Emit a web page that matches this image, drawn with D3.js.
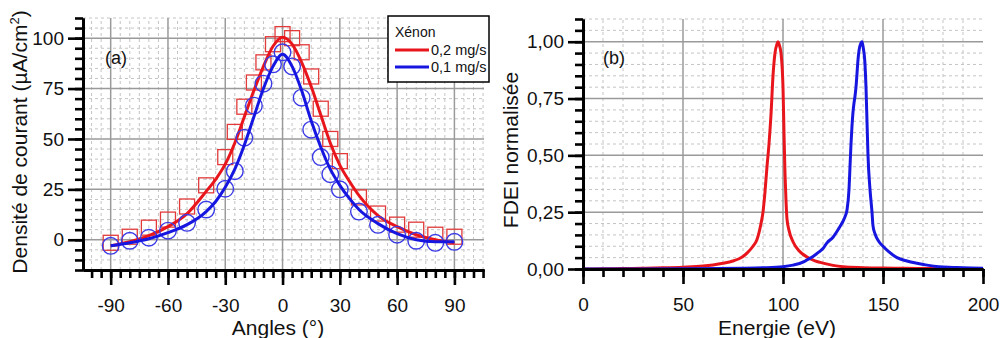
<!DOCTYPE html>
<html><head><meta charset="utf-8">
<script src="https://cdn.jsdelivr.net/npm/d3@7"></script>
<style>body{margin:0;background:#fff} svg{display:block;font-family:Arial,"Liberation Sans",sans-serif}</style>
</head><body><svg id="c" width="1001" height="338"></svg>
<script>
// ---------- Data: panel (a) ----------
const angles = [-90,-80,-70,-60,-50,-40,-30,-25,-20,-15,-10,-5,0,5,10,15,20,25,30,40,50,60,70,80,90];
const current02 = [-1.5,1.5,6,10,16.5,27,41,53.5,66,78,88,97,102,100,93,81,65,50,39,21,13,7.5,5,2.5,1.5];
const current01 = [-3,-0.5,1,4.5,8.4,15,25.3,34,50.6,66.5,77.4,87,93,86,70.5,54.6,41,32.5,25,14,7.4,2.5,-0.5,-1.5,-1];
const fitAngles = [-90,-80,-70,-60,-50,-40,-35,-30,-25,-20,-15,-10,-5,0,5,10,15,20,25,30,35,40,50,60,70,80,90];
const fit02 = [-3,-1,2,6.5,13,24,30,37.5,48,61,74,86,96,100.5,97,88,76,62,48,37,29,22,12,6.5,2.5,0,-1.5];
const fit01 = [-3,-1.5,0.5,3.5,7.5,14,19,26,35,47,61,75,86,92,86,74,59,46,35,27,20.5,15,8,3,0,-1,-1];
const angleTicks = [-90,-60,-30,0,30,60,90];
const currentTicks = [0,25,50,75,100];

// ---------- Data: panel (b) ----------
const energyRed = [0,10,20,30,40,50,60,65,70,75,78,80,82,85,87,88,89,90,91,92,93,94,95,96,97,97.5,98,99,100,100.5,101,101.5,102,103,105,108,112,116,120,125,130,140,150,160,180,200];
const fdeiRed   = [0,0.001,0.002,0.003,0.005,0.008,0.013,0.018,0.025,0.035,0.045,0.055,0.07,0.1,0.13,0.16,0.2,0.25,0.34,0.45,0.55,0.68,0.85,0.95,0.99,1.0,0.99,0.95,0.8,0.6,0.42,0.3,0.22,0.17,0.12,0.08,0.053,0.036,0.026,0.016,0.01,0.006,0.004,0.003,0.002,0.001];
const energyBlue = [0,50,80,90,100,105,110,112,115,118,120,122,125,128,130,131,132,133,133.5,134,134.5,135,135.5,136,136.5,137,137.5,138,139,139.5,140,141,141.5,142,142.5,143.5,144.5,145,146,148,150,153,157,162,167,172,178,185,190,200];
const fdeiBlue   = [0,0.001,0.003,0.005,0.01,0.017,0.03,0.04,0.055,0.075,0.09,0.115,0.14,0.18,0.21,0.23,0.26,0.35,0.45,0.55,0.63,0.69,0.73,0.76,0.8,0.86,0.92,0.96,0.995,1.0,0.98,0.9,0.8,0.65,0.5,0.35,0.25,0.19,0.155,0.12,0.1,0.075,0.05,0.035,0.025,0.017,0.01,0.007,0.005,0.003];
const energyTicks = [0,50,100,150,200];
const fdeiTicks = [0,0.25,0.5,0.75,1];

const legendTitle = "Xénon";
const seriesNames = ["0,2 mg/s","0,1 mg/s"];
const RED = "#e8161c", BLUE = "#1616e0";

const svg = d3.select("#c");

function range(a,b,s){const r=[];for(let v=a;v<=b+1e-9;v+=s)r.push(+v.toFixed(6));return r;}

function drawGrid(g, x, y, xMinor, yMinor, xMajor, yMajor){
  const [x0,x1]=x.range(), [y0,y1]=y.range();
  g.selectAll(".vminor").data(xMinor.filter(d=>!xMajor.includes(d))).enter().append("line")
    .attr("x1",d=>x(d)).attr("x2",d=>x(d)).attr("y1",y0).attr("y2",y1)
    .attr("stroke","#c4c4c4").attr("stroke-width",1).attr("stroke-dasharray","3,3");
  g.selectAll(".hminor").data(yMinor.filter(d=>!yMajor.includes(d))).enter().append("line")
    .attr("y1",d=>y(d)).attr("y2",d=>y(d)).attr("x1",x0).attr("x2",x1)
    .attr("stroke","#c4c4c4").attr("stroke-width",1).attr("stroke-dasharray","3,3");
  g.selectAll(".vmajor").data(xMajor).enter().append("line")
    .attr("x1",d=>x(d)).attr("x2",d=>x(d)).attr("y1",y0).attr("y2",y1)
    .attr("stroke","#9a9a9a").attr("stroke-width",1.5);
  g.selectAll(".hmajor").data(yMajor).enter().append("line")
    .attr("y1",d=>y(d)).attr("y2",d=>y(d)).attr("x1",x0).attr("x2",x1)
    .attr("stroke","#9a9a9a").attr("stroke-width",1.5);
}

function drawAxes(x, y, xMinor, yMinor, xMajor, yMajor, xFmt, yFmt){
  const [x0]=x.range(), [y0]=y.range();
  const gx = svg.append("g").attr("transform",`translate(0,${y0})`);
  gx.call(d3.axisBottom(x).tickValues(xMinor).tickSize(8).tickSizeOuter(0).tickFormat(""));
  gx.call(g=>g.append("g").call(d3.axisBottom(x).tickValues(xMajor).tickSize(15).tickSizeOuter(0).tickPadding(14).tickFormat(xFmt)));
  const gy = svg.append("g").attr("transform",`translate(${x0},0)`);
  gy.call(d3.axisLeft(y).tickValues(yMinor).tickSize(8).tickSizeOuter(0).tickFormat(""));
  gy.call(g=>g.append("g").call(d3.axisLeft(y).tickValues(yMajor).tickSize(15).tickSizeOuter(0).tickPadding(4).tickFormat(yFmt)));
  [gx,gy].forEach(g=>{
    g.selectAll("path.domain").attr("stroke","#000").attr("stroke-width",2.8);
    g.selectAll(".tick line").attr("stroke","#000").attr("stroke-width",2.6);
    g.selectAll(".tick text").attr("fill","#111").attr("font-size",19).attr("font-family","Arial,'Liberation Sans',sans-serif");
  });
  gx.selectAll(".tick text").attr("dy","0.71em");
}

// ---------- Panel (a) ----------
const xa = d3.scaleLinear().domain([-104.5,105.5]).range([83,484]);
const ya = d3.scaleLinear().domain([-15,110]).range([270,18]);
drawGrid(svg.append("g"), xa, ya, range(-100,105,5), range(-15,110,5), angleTicks, currentTicks);

const lineA = (xs, ys) => d3.line().x((d,i)=>xa(xs[i])).y((d,i)=>ya(ys[i])).curve(d3.curveMonotoneX)(ys);
svg.append("g").selectAll("rect").data(angles).enter().append("rect")
  .attr("x",(d,i)=>xa(d)-7.5).attr("y",(d,i)=>ya(current02[i])-7.5).attr("width",15).attr("height",15)
  .attr("fill","none").attr("stroke","#e23a3a").attr("stroke-width",1.3);
svg.append("path").attr("d",lineA(fitAngles,fit02)).attr("fill","none").attr("stroke",RED).attr("stroke-width",3);
svg.append("g").selectAll("circle").data(angles).enter().append("circle")
  .attr("cx",d=>xa(d)).attr("cy",(d,i)=>ya(current01[i])).attr("r",8.3)
  .attr("fill","none").attr("stroke","#3a3ae6").attr("stroke-width",1.4);
svg.append("path").attr("d",lineA(fitAngles,fit01)).attr("fill","none").attr("stroke",BLUE).attr("stroke-width",3);

drawAxes(xa, ya, range(-100,105,5), range(-15,110,5), angleTicks, currentTicks, d=>String(d), d=>String(d));

svg.append("text").attr("x",105).attr("y",64).attr("font-size",18).attr("fill","#111").text("(a)");
svg.append("text").attr("x",278).attr("y",335).attr("text-anchor","middle").attr("font-size",21).attr("fill","#111").text("Angles (°)");
const ta = svg.append("text").attr("transform","translate(27,142) rotate(-90)").attr("text-anchor","middle").attr("font-size",21).attr("fill","#111");
ta.append("tspan").text("Densité de courant (µA/cm");
ta.append("tspan").attr("font-size",13).attr("dy",-8).text("2");
ta.append("tspan").attr("dy",8).text(")");

// legend
const lg = svg.append("g");
lg.append("rect").attr("x",388).attr("y",16).attr("width",101).attr("height",66).attr("fill","#fff").attr("stroke","#000").attr("stroke-width",1.5);
lg.append("text").attr("x",395).attr("y",37).attr("font-size",14).attr("fill","#111").text(legendTitle);
[RED,BLUE].forEach((c,i)=>{
  const yy = 50 + i*17;
  lg.append("line").attr("x1",395).attr("x2",429).attr("y1",yy).attr("y2",yy).attr("stroke",c).attr("stroke-width",3);
  lg.append("text").attr("x",431).attr("y",yy+5).attr("font-size",14.5).attr("fill","#111").text(seriesNames[i]);
});

// ---------- Panel (b) ----------
const xb = d3.scaleLinear().domain([0,200]).range([583,983]);
const yb = d3.scaleLinear().domain([0,1.1]).range([269,19]);
drawGrid(svg.append("g"), xb, yb, range(10,190,10), range(0.05,1.1,0.05), [50,100,150], [0.25,0.5,0.75,1]);
const lineB = (xs, ys) => d3.line().x((d,i)=>xb(xs[i])).y((d,i)=>yb(ys[i])).curve(d3.curveMonotoneX)(ys);
svg.append("path").attr("d",lineB(energyRed,fdeiRed)).attr("fill","none").attr("stroke",RED).attr("stroke-width",3);
svg.append("path").attr("d",lineB(energyBlue,fdeiBlue)).attr("fill","none").attr("stroke",BLUE).attr("stroke-width",3);

drawAxes(xb, yb, range(0,200,10), range(0,1.1,0.05), energyTicks, fdeiTicks, d=>String(d), d=>d3.format(".2f")(d).replace(".",","));

svg.append("text").attr("x",603).attr("y",64).attr("font-size",18).attr("fill","#111").text("(b)");
svg.append("text").attr("x",777).attr("y",335).attr("text-anchor","middle").attr("font-size",21).attr("fill","#111").text("Energie (eV)");
svg.append("text").attr("transform","translate(518,150) rotate(-90)").attr("text-anchor","middle").attr("font-size",21).attr("fill","#111").text("FDEI normalisée");
</script></body></html>
